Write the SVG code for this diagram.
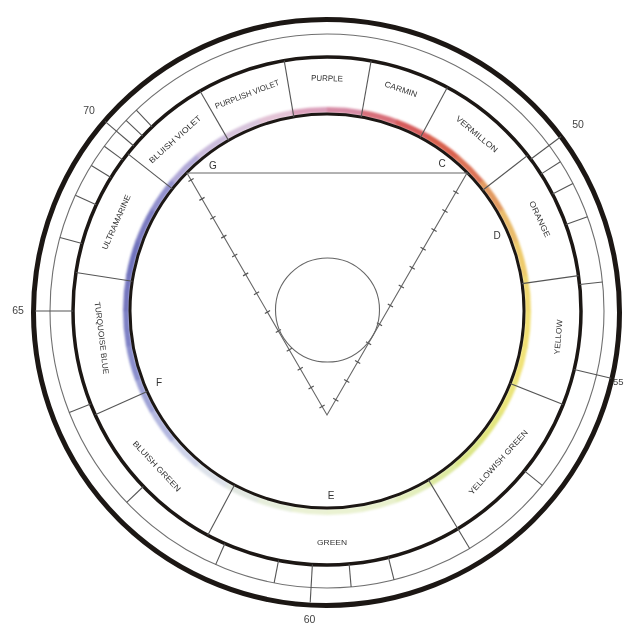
<svg xmlns="http://www.w3.org/2000/svg" width="624" height="625" viewBox="0 0 624 625">
<style>
.ring{fill:none;stroke:#1c1714}
.thin{fill:none;stroke:#707070;stroke-width:1.1}
.dv{stroke:#555;stroke-width:1.1}
.lbl{font-family:"Liberation Sans",Arial,sans-serif;font-size:8px;fill:#333;text-anchor:middle}
.pt{font-family:"Liberation Sans",Arial,sans-serif;font-size:10px;fill:#333;text-anchor:middle}
.num{font-family:"Liberation Sans",Arial,sans-serif;font-size:10.5px;fill:#444;text-anchor:middle}
.tri{fill:none;stroke:#666;stroke-width:1.1}
.tick{fill:none;stroke:#555;stroke-width:6;stroke-dasharray:1.2 20.6}
.fr{fill:none;stroke-width:6}
</style>
<defs>
<path id="arc" d="M201 0A201 201 0 0 1 197.63 36.63"/>
<filter id="blur" x="-10%" y="-10%" width="120%" height="120%"><feGaussianBlur stdDeviation="1.1"/></filter>
</defs>
<rect width="624" height="625" fill="#fff"/>
<g id="fringe" transform="translate(327 311)" filter="url(#blur)" class="fr">
<use href="#arc" transform="rotate(-110)" stroke="#e3c3d6"/>
<use href="#arc" transform="rotate(-100)" stroke="#dba0bb"/>
<use href="#arc" transform="rotate(-90)" stroke="#d78aa4"/>
<use href="#arc" transform="rotate(-80)" stroke="#d8707a"/>
<use href="#arc" transform="rotate(-70)" stroke="#d65c5c"/>
<use href="#arc" transform="rotate(-60)" stroke="#d8604e"/>
<use href="#arc" transform="rotate(-50)" stroke="#dc7256"/>
<use href="#arc" transform="rotate(-40)" stroke="#e29a60"/>
<use href="#arc" transform="rotate(-30)" stroke="#e9bb6a"/>
<use href="#arc" transform="rotate(-20)" stroke="#eecb6c"/>
<use href="#arc" transform="rotate(-10)" stroke="#f0d870"/>
<use href="#arc" transform="rotate(0)" stroke="#f1df72"/>
<use href="#arc" transform="rotate(10)" stroke="#f0e278"/>
<use href="#arc" transform="rotate(20)" stroke="#eae47a"/>
<use href="#arc" transform="rotate(30)" stroke="#e2e57e"/>
<use href="#arc" transform="rotate(40)" stroke="#dce688"/>
<use href="#arc" transform="rotate(50)" stroke="#dde9a0"/>
<use href="#arc" transform="rotate(60)" stroke="#e3eebc"/>
<use href="#arc" transform="rotate(70)" stroke="#e8f0cc"/>
<use href="#arc" transform="rotate(80)" stroke="#eaf2d2"/>
<use href="#arc" transform="rotate(90)" stroke="#eaf1d4"/>
<use href="#arc" transform="rotate(100)" stroke="#e6eedb"/>
<use href="#arc" transform="rotate(110)" stroke="#e2e8e2"/>
<use href="#arc" transform="rotate(120)" stroke="#dde2ea"/>
<use href="#arc" transform="rotate(130)" stroke="#cdd2e8"/>
<use href="#arc" transform="rotate(140)" stroke="#b4b8e0"/>
<use href="#arc" transform="rotate(150)" stroke="#9ea2d6"/>
<use href="#arc" transform="rotate(160)" stroke="#8a8ecc"/>
<use href="#arc" transform="rotate(170)" stroke="#7d80c4"/>
<use href="#arc" transform="rotate(180)" stroke="#7476be"/>
<use href="#arc" transform="rotate(190)" stroke="#7072bc"/>
<use href="#arc" transform="rotate(200)" stroke="#7a7ac0"/>
<use href="#arc" transform="rotate(210)" stroke="#9290cc"/>
<use href="#arc" transform="rotate(220)" stroke="#b2aad8"/>
<use href="#arc" transform="rotate(230)" stroke="#cbbcdc"/>
<use href="#arc" transform="rotate(240)" stroke="#d8c4dc"/>
</g>
<g id="rings">
<circle class="ring" cx="326.5" cy="312.5" r="293" stroke-width="5"/>
<circle class="thin" cx="327" cy="311" r="277"/>
<circle class="ring" cx="327" cy="311" r="254" stroke-width="3.5"/>
<circle class="ring" cx="327" cy="311" r="197" stroke-width="3"/>
</g>
<g id="connectors" transform="translate(327 311)">
<g class="dv">
<line x1="197" x2="254" transform="rotate(-99.7)"/>
<line x1="197" x2="254" transform="rotate(-80)"/>
<line x1="197" x2="254" transform="rotate(-61.7)"/>
<line x1="197" x2="254" transform="rotate(-37.8)"/>
<line x1="197" x2="254" transform="rotate(-8)"/>
<line x1="197" x2="254" transform="rotate(21.6)"/>
<line x1="197" x2="277" transform="rotate(59)"/>
<line x1="197" x2="254" transform="rotate(118)"/>
<line x1="197" x2="254" transform="rotate(155.9)"/>
<line x1="197" x2="254" transform="rotate(188.7)"/>
<line x1="197" x2="254" transform="rotate(218.3)"/>
<line x1="197" x2="254" transform="rotate(240)"/>
</g>
<g class="dv">
<line x1="254" x2="292" transform="rotate(-36.7)"/>
<line x1="254" x2="292" transform="rotate(13.3)"/>
<line x1="254" x2="292" transform="rotate(93.3)"/>
<line x1="254" x2="292" transform="rotate(180)"/>
<line x1="254" x2="292" transform="rotate(220.5)"/>
<line x1="254" x2="277" transform="rotate(-32.6)"/>
<line x1="254" x2="277" transform="rotate(-27.4)"/>
<line x1="254" x2="277" transform="rotate(-19.9)"/>
<line x1="254" x2="277" transform="rotate(-6)"/>
<line x1="254" x2="277" transform="rotate(39)"/>
<line x1="254" x2="277" transform="rotate(76)"/>
<line x1="254" x2="277" transform="rotate(85)"/>
<line x1="254" x2="277" transform="rotate(101)"/>
<line x1="254" x2="277" transform="rotate(113.7)"/>
<line x1="254" x2="277" transform="rotate(136.3)"/>
<line x1="254" x2="277" transform="rotate(158.5)"/>
<line x1="254" x2="277" transform="rotate(195.4)"/>
<line x1="254" x2="277" transform="rotate(204.7)"/>
<line x1="254" x2="277" transform="rotate(211.7)"/>
<line x1="254" x2="277" transform="rotate(216.5)"/>
<line x1="254" x2="277" transform="rotate(223.5)"/>
<line x1="254" x2="277" transform="rotate(226.5)"/>
</g>
</g>
<g id="triangle">
<path class="tri" d="M187 173L467 173L327 415Z"/>
<path class="tick" d="M187 173L327 415" stroke-dashoffset="14.3"/>
<path class="tick" d="M467 173L327 415" stroke-dashoffset="0.2"/>
<circle class="tri" cx="327.5" cy="310" r="52"/>
</g>
<g id="labels">
<text class="lbl" transform="translate(327 78) rotate(2)" y="3" textLength="32" lengthAdjust="spacingAndGlyphs">PURPLE</text>
<text class="lbl" transform="translate(401 89) rotate(19)" y="3" textLength="34" lengthAdjust="spacingAndGlyphs">CARMIN</text>
<text class="lbl" transform="translate(477 134) rotate(40)" y="3" textLength="52" lengthAdjust="spacingAndGlyphs">VERMILLON</text>
<text class="lbl" transform="translate(540 219) rotate(65)" y="3" textLength="39" lengthAdjust="spacingAndGlyphs">ORANGE</text>
<text class="lbl" transform="translate(558 337) rotate(-85)" y="3" textLength="35" lengthAdjust="spacingAndGlyphs">YELLOW</text>
<text class="lbl" transform="translate(498 462) rotate(-48)" y="3" textLength="84" lengthAdjust="spacingAndGlyphs">YELLOWISH  GREEN</text>
<text class="lbl" transform="translate(332 542)" y="3" textLength="30" lengthAdjust="spacingAndGlyphs">GREEN</text>
<text class="lbl" transform="translate(157 466) rotate(47)" y="3" textLength="66" lengthAdjust="spacingAndGlyphs">BLUISH GREEN</text>
<text class="lbl" transform="translate(102 338) rotate(83)" y="3" textLength="73" lengthAdjust="spacingAndGlyphs">TURQUOISE BLUE</text>
<text class="lbl" transform="translate(116 222) rotate(-66)" y="3" textLength="59" lengthAdjust="spacingAndGlyphs">ULTRAMARINE</text>
<text class="lbl" transform="translate(175 139) rotate(-42)" y="3" textLength="67" lengthAdjust="spacingAndGlyphs">BLUISH VIOLET</text>
<text class="lbl" transform="translate(247 94) rotate(-21)" y="3" textLength="68" lengthAdjust="spacingAndGlyphs">PURPLISH VIOLET</text>
</g>
<g id="points">
<text class="pt" x="213" y="169">G</text>
<text class="pt" x="442" y="167">C</text>
<text class="pt" x="497" y="239">D</text>
<text class="pt" x="159" y="386">F</text>
<text class="pt" x="331" y="499">E</text>
</g>
<g id="scale">
<text class="num" x="578" y="128">50</text>
<text class="num" x="623.5" y="385" style="text-anchor:end;font-size:9.5px">55</text>
<text class="num" x="309.5" y="623">60</text>
<text class="num" x="18" y="314">65</text>
<text class="num" x="89" y="114">70</text>
</g>
</svg>
